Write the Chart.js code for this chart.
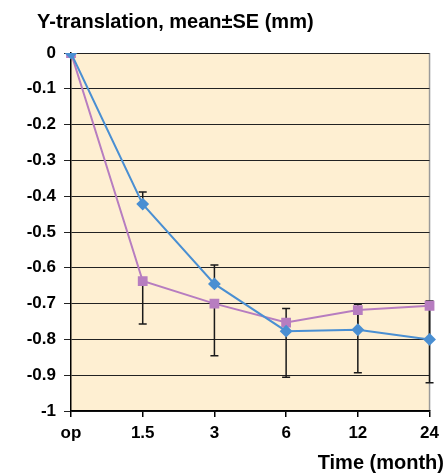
<!DOCTYPE html>
<html>
<head>
<meta charset="utf-8">
<script src="https://cdn.jsdelivr.net/npm/chart.js@4/dist/chart.umd.min.js"></script>
<style>
  html, body { margin: 0; padding: 0; background: #fff; }
</style>
</head>
<body>
<canvas id="yChart" width="445" height="475"></canvas>
<script>
// values
var timeLabels = ["op", "1.5", "3", "6", "12", "24"];
var blueMean = [0, -0.422, -0.645, -0.777, -0.773, -0.80];
var blueSE = [0, 0.034, 0.053, 0.063, 0.071, 0.107];
var purpleMean = [0, -0.637, -0.70, -0.753, -0.718, -0.706];
var purpleSE = [0, 0.12, 0.146, 0.153, 0.175, 0.215];
var yTicks = [0, -0.1, -0.2, -0.3, -0.4, -0.5, -0.6, -0.7, -0.8, -0.9, -1];

var fontFam = "'Liberation Sans', Arial, Helvetica, sans-serif";

var plotBg = {
    id: 'plotBg',
    beforeDraw: function(chart) {
        var a = chart.chartArea, ctx = chart.ctx;
        ctx.save();
        ctx.fillStyle = '#FEEFD2';
        ctx.fillRect(a.left, a.top, a.right - a.left, a.bottom - a.top);
        ctx.strokeStyle = '#9a9a9a';
        ctx.lineWidth = 1.5;
        ctx.beginPath();
        ctx.moveTo(a.right, a.top);
        ctx.lineTo(a.right, a.bottom);
        ctx.stroke();
        ctx.restore();
    }
};

var errorBars = {
    id: 'errorBars',
    beforeDatasetsDraw: function(chart) {
        var ctx = chart.ctx;
        var xs = chart.scales.x, ys = chart.scales.y;
        ctx.save();
        ctx.strokeStyle = '#1a1a1a';
        ctx.lineWidth = 1.5;
        chart.data.datasets.forEach(function(ds) {
            if (!ds.se) return;
            ds.data.forEach(function(v, i) {
                if (!ds.se[i]) return;
                var x = xs.getPixelForValue(i);
                var y0 = ys.getPixelForValue(v);
                var y1 = ys.getPixelForValue(v + ds.seDir * ds.se[i]);
                ctx.beginPath();
                ctx.moveTo(x, y0);
                ctx.lineTo(x, y1);
                ctx.moveTo(x - 4, y1);
                ctx.lineTo(x + 4, y1);
                ctx.stroke();
            });
        });
        ctx.restore();
    }
};

var textBits = {
    id: 'textBits',
    afterDraw: function(chart) {
        var ctx = chart.ctx;
        ctx.save();
        ctx.fillStyle = '#000';
        ctx.font = 'bold 20px ' + fontFam;
        ctx.textAlign = 'left';
        ctx.textBaseline = 'alphabetic';
        ctx.fillText('Y-translation, mean\u00B1SE (mm)', 37, 28);
        ctx.textAlign = 'right';
        ctx.fillText('Time (month)', 444, 469);
        ctx.restore();
    }
};

new Chart(document.getElementById('yChart'), {
    type: 'line',
    data: {
        labels: timeLabels,
        datasets: [{
            data: blueMean,
            se: blueSE,
            seDir: 1,
            borderColor: '#4A8FD2',
            backgroundColor: '#4A8FD2',
            borderWidth: 2,
            pointStyle: 'rectRot',
            pointRadius: 5,
            pointHoverRadius: 5,
            tension: 0
        }, {
            data: purpleMean,
            se: purpleSE,
            seDir: -1,
            borderColor: '#B77DC0',
            backgroundColor: '#B77DC0',
            borderWidth: 2,
            pointStyle: 'rect',
            pointRadius: 5.5,
            pointHoverRadius: 5.5,
            tension: 0
        }]
    },
    options: {
        responsive: false,
        animation: false,
        devicePixelRatio: 1,
        layout: { padding: { top: 53, right: 13, left: 0, bottom: 0 } },
        plugins: {
            legend: { display: false },
            title: { display: false },
            tooltip: { enabled: false }
        },
        scales: {
            x: {
                type: 'category',
                offset: false,
                afterFit: function(s) { s.height = 64; },
                grid: { drawOnChartArea: false, drawTicks: true, tickLength: 6, color: '#000', lineWidth: 1.5 },
                border: { display: true, color: '#000', width: 1.5 },
                ticks: {
                    color: '#000',
                    padding: 6,
                    maxRotation: 0,
                    autoSkip: false,
                    font: { family: fontFam, size: 17, weight: 'bold' }
                }
            },
            y: {
                min: -1,
                max: 0,
                afterFit: function(s) { s.width = 71; },
                afterBuildTicks: function(s) {
                    s.ticks = yTicks.map(function(v) { return { value: v }; });
                },
                grid: { color: '#222', lineWidth: 1, tickLength: 7, drawTicks: true },
                border: { display: true, color: '#000', width: 1.5 },
                ticks: {
                    color: '#000',
                    padding: 8,
                    font: { family: fontFam, size: 17, weight: 'bold' },
                    callback: function(v) { return String(Math.round(v * 10) / 10); }
                }
            }
        }
    },
    plugins: [plotBg, errorBars, textBits]
});
</script>
</body>
</html>
